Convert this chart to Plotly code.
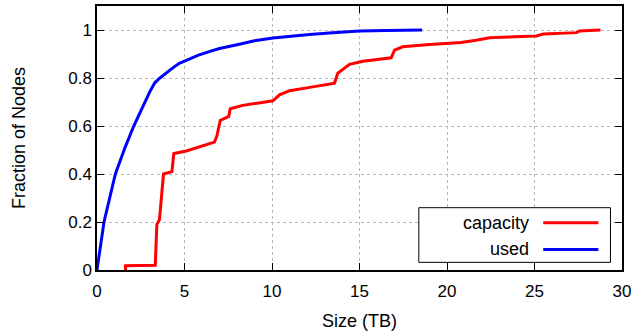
import plotly.graph_objects as go

# Data (CDF of node sizes)
capacity_x = [1.63, 1.63, 3.33, 3.42, 3.57, 3.76, 3.80, 4.28, 4.39, 5.10, 6.14, 6.71, 6.85, 7.04,
              7.53, 7.61, 8.33, 10.05, 10.43, 11.00, 12.33, 13.29, 13.57, 13.76, 14.14, 14.43,
              15.19, 16.81, 17.00, 17.47, 19.00, 20.80, 21.67, 22.43, 25.10, 25.50, 27.40, 27.57, 28.77]
capacity_y = [0.0, 0.018, 0.02, 0.19, 0.21, 0.39, 0.40, 0.41, 0.485, 0.496, 0.52, 0.533, 0.558, 0.623,
              0.64, 0.672, 0.686, 0.705, 0.73, 0.747, 0.763, 0.777, 0.778, 0.82, 0.84, 0.857,
              0.87, 0.884, 0.916, 0.93, 0.94, 0.948, 0.957, 0.968, 0.975, 0.983, 0.989, 0.996, 1.0]

used_x = [0, 0.4, 1.05, 1.6, 2.1, 2.6, 3.0, 3.3, 3.6, 4.2, 4.7, 5.0, 5.8, 6.5, 7.0, 8.2, 9.0,
          10.05, 11.0, 12.14, 13.47, 15.0, 16.5, 18.58]
used_y = [0, 0.2, 0.4, 0.51, 0.6, 0.68, 0.74, 0.78, 0.80, 0.835, 0.861, 0.87, 0.895, 0.912, 0.923,
          0.942, 0.955, 0.967, 0.974, 0.981, 0.989, 0.996, 0.998, 1.0]

series_names = ["capacity", "used"]
series_colors = ["#ff0000", "#0000ff"]

x_ticks = [0, 5, 10, 15, 20, 25, 30]
y_ticks = [0, 0.2, 0.4, 0.6, 0.8, 1.0]
y_tick_labels = ["0", "0.2", "0.4", "0.6", "0.8", "1"]

FONT = "Liberation Sans, Arial, sans-serif"

fig = go.Figure()
fig.add_trace(go.Scatter(x=capacity_x, y=capacity_y, mode="lines", name=series_names[0],
                         line=dict(color=series_colors[0], width=3), showlegend=False))
fig.add_trace(go.Scatter(x=used_x, y=used_y, mode="lines", name=series_names[1],
                         line=dict(color=series_colors[1], width=3), showlegend=False))

axis_common = dict(showline=True, linecolor="black", linewidth=1.5, mirror="ticks",
                   ticks="inside", ticklen=7, tickcolor="black", tickwidth=1,
                   showgrid=True, gridcolor="#b8b8b8", griddash="dot", gridwidth=1,
                   zeroline=False, tickfont=dict(family=FONT, size=17, color="black"))

fig.update_xaxes(range=[0, 30], tickvals=x_ticks, ticklabelstandoff=5,
                 title=dict(text="Size (TB)", font=dict(family=FONT, size=18, color="black"), standoff=14),
                 **axis_common)
fig.update_yaxes(range=[0, 1.1], tickvals=y_ticks, ticktext=y_tick_labels,
                 title=dict(text="Fraction of Nodes", font=dict(family=FONT, size=18, color="black"), standoff=38),
                 **axis_common)

# gnuplot-style legend box (text right-aligned, sample line on the right)
fig.add_shape(type="rect", xref="paper", yref="paper", x0=0.613, x1=0.978, y0=0.029, y1=0.236,
              line=dict(color="black", width=1), fillcolor="white", layer="above")
legend_rows_y = [0.179, 0.078]
for name, color, ly in zip(series_names, series_colors, legend_rows_y):
    fig.add_annotation(xref="paper", yref="paper", x=0.826, y=ly, text=name, showarrow=False,
                       xanchor="right", yanchor="middle",
                       font=dict(family=FONT, size=18, color="black"))
    fig.add_shape(type="line", xref="paper", yref="paper", x0=0.850, x1=0.955, y0=ly, y1=ly,
                  line=dict(color=color, width=3), layer="above")

fig.update_layout(width=636, height=336, plot_bgcolor="white", paper_bgcolor="white",
                  margin=dict(l=97, r=14, t=4, b=66),
                  font=dict(family=FONT, size=17, color="black"))

fig.write_html("out.html", post_script="document.body.style.margin='0';",
               config={"displayModeBar": False})
